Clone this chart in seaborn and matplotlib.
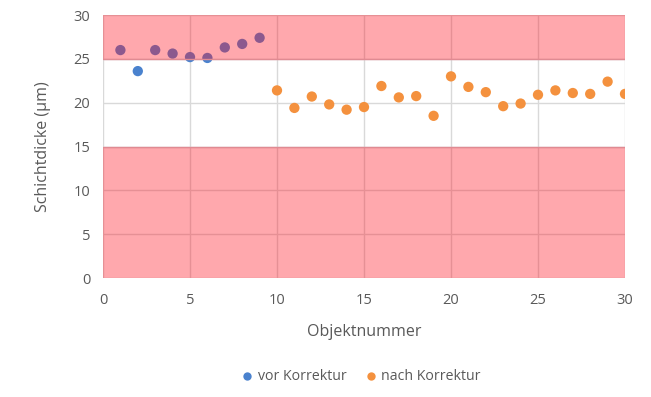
import numpy as np
import pandas as pd
import matplotlib
matplotlib.use("Agg")
import matplotlib.pyplot as plt
import seaborn as sns

sns.set_theme(style="white")
plt.rcParams['font.family'] = ['Open Sans', 'DejaVu Sans']

# data
obj_vor = [1, 2, 3, 4, 5, 6, 7, 8, 9]
dicke_vor = [26.0, 23.6, 26.0, 25.6, 25.2, 25.1, 26.3, 26.7, 27.4]
obj_nach = list(range(10, 31))
dicke_nach = [21.4, 19.4, 20.7, 19.8, 19.2, 19.5, 21.9, 20.6, 20.75, 18.5, 23.0,
              21.8, 21.2, 19.6, 19.9, 20.9, 21.4, 21.1, 21.0, 22.4, 21.0]
series_names = ["vor Korrektur", "nach Korrektur"]
# tolerance bands (out of spec)
band_upper = (25, 30)
band_lower = (0, 15)

df = pd.DataFrame({
    'Objektnummer': obj_vor + obj_nach,
    'Schichtdicke': dicke_vor + dicke_nach,
    'Serie': [series_names[0]] * len(obj_vor) + [series_names[1]] * len(obj_nach),
})

palette = {series_names[0]: '#4A82CE', series_names[1]: '#F4913E'}
grey = '#595959'

fig = plt.figure(figsize=(6.51, 3.97), dpi=100)
ax = fig.add_axes([103 / 651, 1 - 278 / 397, (625 - 103) / 651, (278 - 15) / 397])

sns.scatterplot(data=df, x='Objektnummer', y='Schichtdicke', hue='Serie',
                palette=palette, s=55, edgecolor='none', ax=ax, zorder=3, legend=False)

# pink out-of-tolerance zones drawn above the points
for lo, hi in (band_upper, band_lower):
    ax.axhspan(lo, hi, facecolor='#FF1422', alpha=0.37, edgecolor='none', zorder=4)
    ax.axhline(hi if hi < 30 else lo, color='#E08A92', linewidth=1.0, zorder=4)

ax.set_xlim(0, 30)
ax.set_ylim(0, 30)
ax.set_xticks(np.arange(0, 31, 5))
ax.set_yticks(np.arange(0, 31, 5))
ax.grid(True, color='#D9D9D9', linewidth=1.0, zorder=0)
ax.set_axisbelow(True)
for sp in ax.spines.values():
    sp.set_visible(False)
ax.tick_params(axis='both', length=0, labelsize=10.5, colors=grey)
ax.tick_params(axis='x', pad=11)
ax.tick_params(axis='y', pad=9)

ax.set_xlabel("Objektnummer", fontsize=11.5, color=grey, labelpad=11)
ax.set_ylabel("Schichtdicke (µm)", fontsize=11.5, color=grey, labelpad=16)

handles = [plt.Line2D([], [], marker='o', linestyle='none', markersize=6,
                      markerfacecolor=palette[n], markeredgecolor='none', label=n)
           for n in series_names]
fig.legend(handles=handles, loc='center', bbox_to_anchor=(361 / 651, 1 - 377 / 397),
           ncol=2, frameon=False, fontsize=10.2, labelcolor=grey,
           handlelength=0.8, handletextpad=0.35, columnspacing=1.3)

fig.savefig("out.png", dpi=100)
